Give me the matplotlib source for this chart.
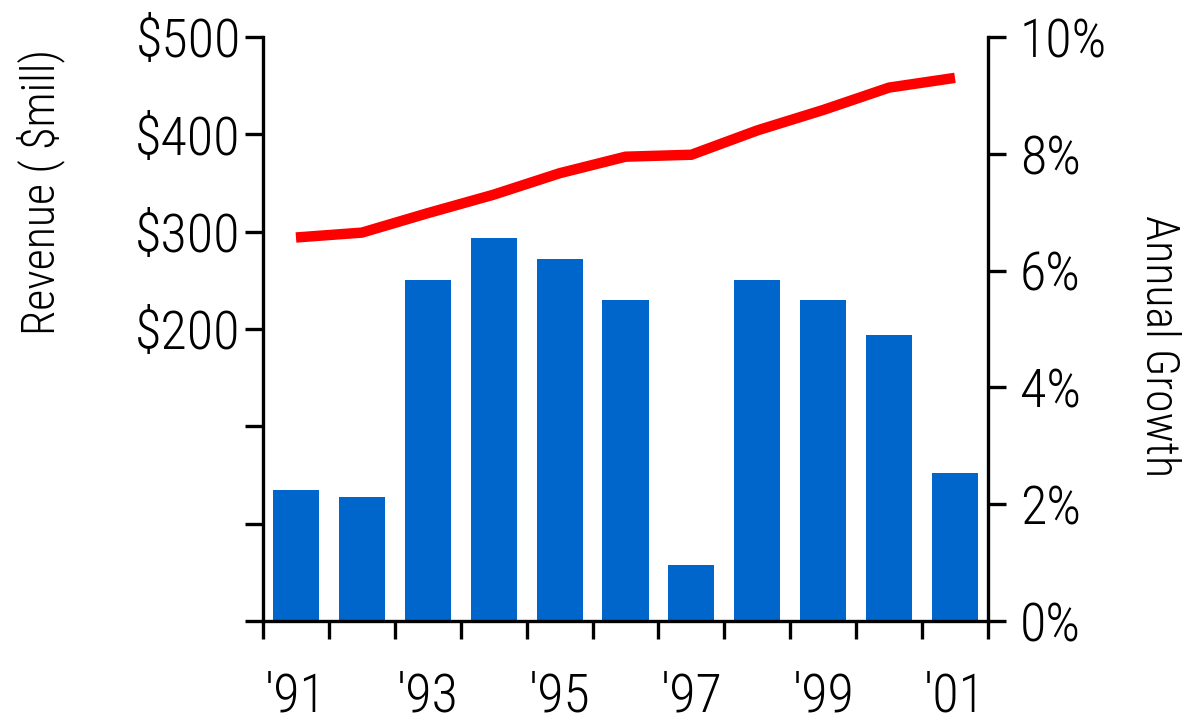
import matplotlib.pyplot as plt

plt.rcParams['font.family'] = ['Roboto Condensed', 'DejaVu Sans']
plt.rcParams['font.weight'] = 300

years = ["'91", "'92", "'93", "'94", "'95", "'96", "'97", "'98", "'99", "'00", "'01"]
growth = [2.24, 2.12, 5.84, 6.56, 6.20, 5.50, 0.96, 5.84, 5.50, 4.90, 2.53]  # %
revenue = [294, 299, 319, 338, 360, 377, 379, 404, 425, 448, 458]  # $mill

x = list(range(len(years)))

fig = plt.figure(figsize=(11.88, 7.22), dpi=100)
ax = fig.add_axes([0.2214, 0.1399, 0.6102, 0.8089])
ax2 = ax.twinx()

# bars on growth axis (right), line on revenue axis (left)
ax2.bar(x, growth, width=0.7, color='#0066CC', zorder=2)
ax.plot(x, revenue, color='#FF0000', lw=7.5, solid_joinstyle='miter', solid_capstyle='butt', zorder=3)
ax.set_zorder(ax2.get_zorder() + 1)
ax.patch.set_visible(False)

ax.set_xlim(-0.5, len(years) - 0.5)
ax.set_ylim(-100, 500)
ax.set_yticks(range(-100, 501, 100))
ax.set_yticklabels(['' if v < 200 else f'${v}' for v in range(-100, 501, 100)])
ax2.set_ylim(0, 10)
ax2.set_yticks(range(0, 11, 2))
ax2.set_yticklabels([f'{v}%' for v in range(0, 11, 2)])

ax.set_xticks([i - 0.5 for i in range(len(years) + 1)])
ax.set_xticklabels([])
ax.set_xticks(x, minor=True)
ax.set_xticklabels([y if i % 2 == 0 else '' for i, y in enumerate(years)], minor=True)

for a in (ax, ax2):
    for s in a.spines.values():
        s.set_linewidth(2.4)
    a.spines['top'].set_visible(False)
ax.spines['right'].set_visible(False)
ax2.spines['left'].set_visible(False)
ax2.spines['bottom'].set_visible(False)

ax.tick_params(axis='y', which='major', length=13, width=2.4, labelsize=39, pad=3)
ax2.tick_params(axis='y', length=13, width=2.4, labelsize=39, pad=10)
ax.tick_params(axis='x', which='major', length=13, width=2.4)
ax.tick_params(axis='x', which='minor', length=0, labelsize=39, pad=36)

fig.text(0.034, 0.734, 'Revenue ( $mill)', rotation=90, fontsize=33, ha='center', va='center')
fig.text(0.976, 0.52, 'Annual Growth', rotation=-90, fontsize=33, ha='center', va='center')

fig.savefig('out.png', dpi=100)
